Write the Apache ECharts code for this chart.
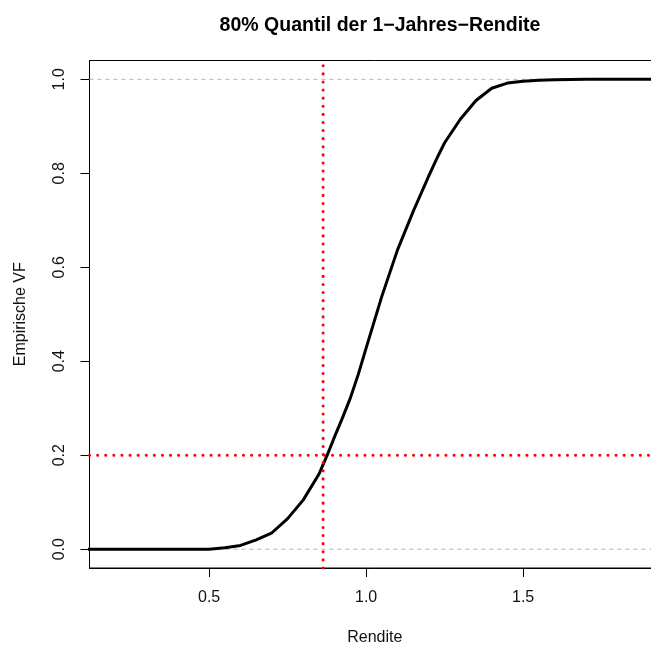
<!DOCTYPE html>
<html><head><meta charset="utf-8">
<script src="https://cdn.jsdelivr.net/npm/echarts@6/dist/echarts.min.js"></script>
<style>html,body{margin:0;padding:0;background:#fff;overflow:hidden}#c{width:660px;height:651px}</style>
</head><body><div id="c"></div>
<script>
const rendite = [0.10, 0.50, 0.55, 0.60, 0.65, 0.70, 0.75, 0.80, 0.85, 0.876, 0.90, 0.925, 0.95, 0.975, 1.00, 1.05, 1.10, 1.15, 1.175, 1.20, 1.225, 1.25, 1.30, 1.35, 1.40, 1.45, 1.50, 1.55, 1.60, 1.70, 1.95];
const empVF   = [0.0, 0.0, 0.003, 0.008, 0.02, 0.035, 0.065, 0.105, 0.16, 0.20, 0.24, 0.28, 0.322, 0.372, 0.428, 0.538, 0.637, 0.719, 0.757, 0.795, 0.831, 0.865, 0.915, 0.955, 0.981, 0.992, 0.996, 0.998, 0.999, 1.0, 1.0];
const quantil80 = 0.863;   // vertical red line (x)
const niveau = 0.2;        // horizontal red line (y)
const refLevels = [0, 1];  // grey dashed reference lines
const xTicks = [0.5, 1.0, 1.5];
const yTicks = [0.0, 0.2, 0.4, 0.6, 0.8, 1.0];
const xRange = [0.119, 1.936];
const yRange = [-0.04, 1.04];

const font = 'Liberation Sans, Arial, sans-serif';
const chart = echarts.init(document.getElementById('c'));
const series = [];
refLevels.forEach(v => series.push({
  type: 'line', data: [[xRange[0], v], [xRange[1], v]], symbol: 'none', silent: true, z: 1,
  lineStyle: { color: '#b4b4b4', width: 1, type: [4, 4] }
}));
series.push({
  type: 'line', data: rendite.map((x, i) => [x, empVF[i]]), symbol: 'none', z: 3,
  lineStyle: { color: '#000', width: 3, join: 'round' }
});
series.push({
  type: 'line', data: [[quantil80, yRange[0]], [quantil80, yRange[1]]], symbol: 'none', z: 4,
  lineStyle: { color: '#ff0000', width: 3, type: [0.1, 8], cap: 'round' }
});
series.push({
  type: 'line', data: [[xRange[0], niveau], [xRange[1], niveau]], symbol: 'none', z: 4,
  lineStyle: { color: '#ff0000', width: 3, type: [0.1, 8], cap: 'round' }
});

chart.setOption({
  animation: false,
  title: { text: '80% Quantil der 1\u2212Jahres\u2212Rendite', left: 375, top: 11, textAlign: 'center',
    textStyle: { fontFamily: font, fontWeight: 'bold', fontSize: 19.5, color: '#000' } },
  grid: { left: 89.5, right: 0, top: 60.5, bottom: 79.3, show: true, borderColor: '#000', borderWidth: 1, containLabel: false },
  xAxis: {
    type: 'value', min: xRange[0], max: xRange[1],
    name: 'Rendite', nameLocation: 'middle', nameGap: 62,
    nameTextStyle: { fontFamily: font, fontSize: 16, color: '#111' },
    axisLine: { show: true, onZero: false, lineStyle: { color: '#000' } },
    axisTick: { show: true, length: 9, customValues: xTicks, lineStyle: { color: '#000' } },
    axisLabel: { customValues: xTicks, margin: 22, fontFamily: font, fontSize: 16, color: '#111',
      formatter: v => v.toFixed(1) },
    splitLine: { show: false }
  },
  yAxis: {
    type: 'value', min: yRange[0], max: yRange[1],
    name: 'Empirische VF', nameLocation: 'middle', nameGap: 61, nameRotate: 90,
    nameTextStyle: { fontFamily: font, fontSize: 16, color: '#111' },
    axisLine: { show: true, onZero: false, lineStyle: { color: '#000' } },
    axisTick: { show: true, length: 9, customValues: yTicks, lineStyle: { color: '#000' } },
    axisLabel: { customValues: yTicks, rotate: 90, margin: 22, fontFamily: font, fontSize: 16, color: '#111',
      formatter: v => v.toFixed(1) },
    splitLine: { show: false }
  },
  series: series
});
</script></body></html>
